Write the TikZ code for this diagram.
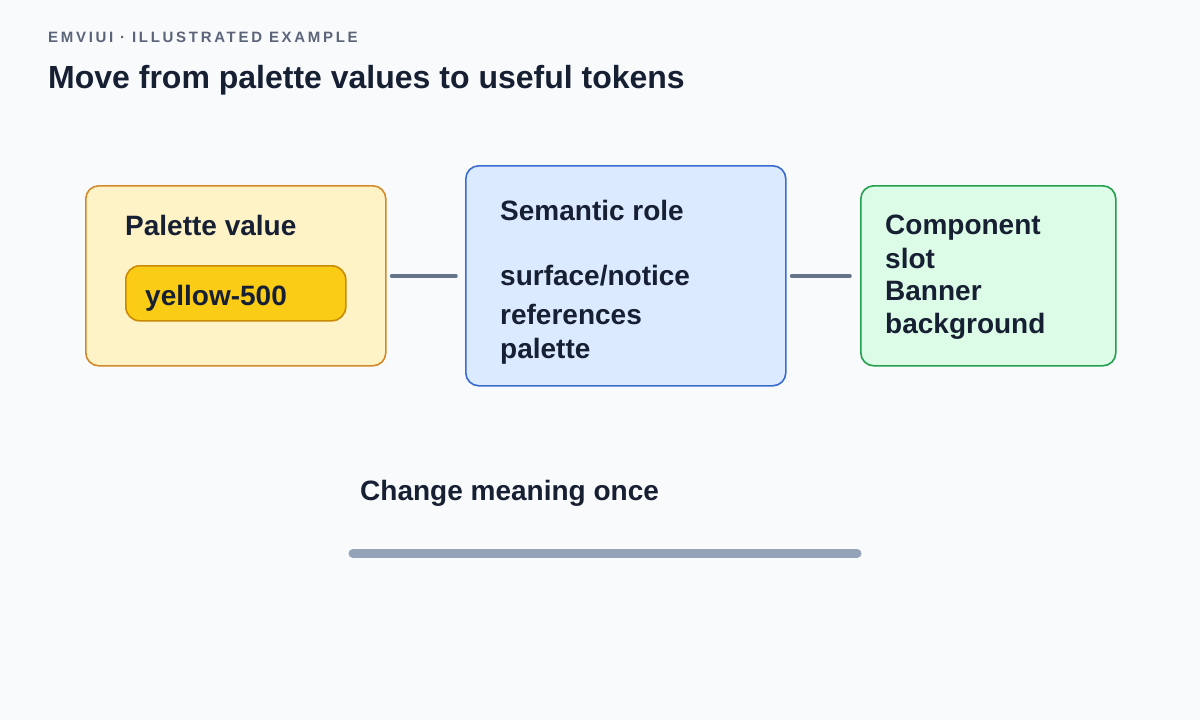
\documentclass[tikz,border=0pt]{standalone}
\usepackage{fontspec}
\setmainfont{Liberation Sans}
\newfontfamily\eyebrowfont[LetterSpace=18]{Liberation Sans}
\usetikzlibrary{positioning}
\definecolor{bgc}{HTML}{F8FAFC}
\definecolor{ink}{HTML}{172033}
\definecolor{muted}{HTML}{5B6478}
\definecolor{ylfill}{HTML}{FEF3C7}
\definecolor{ylstroke}{HTML}{D4892A}
\definecolor{pillfill}{HTML}{FACC15}
\definecolor{pillstroke}{HTML}{CA8A04}
\definecolor{blfill}{HTML}{DBEAFE}
\definecolor{blstroke}{HTML}{3A6CD0}
\definecolor{grfill}{HTML}{DCFCE7}
\definecolor{grstroke}{HTML}{22A04E}
\definecolor{conn}{HTML}{64748B}
\definecolor{barc}{HTML}{94A3B8}
\tikzset{
  x=1pt, y=-1pt,
  box/.style={draw, line width=1.6pt, rounded corners=13pt, anchor=north west, inner sep=0pt},
  lbl/.style={anchor=base west, inner sep=0pt, text=ink, font=\bfseries\fontsize{28}{32}\selectfont},
  conline/.style={draw=conn, line width=3.5pt, line cap=round},
}
\begin{document}
\begin{tikzpicture}
\path[fill=bgc] (0,0) rectangle (1200,720);
\useasboundingbox (0,0) rectangle (1200,720);
\node[anchor=base west, inner sep=0pt, text=muted, font=\eyebrowfont\bfseries\fontsize{15}{18}\selectfont] (eyebrow) at (48,42) {EMVIUI · ILLUSTRATED EXAMPLE};
\node[anchor=base west, inner sep=0pt, text=ink, font=\bfseries\fontsize{32}{36}\selectfont] (title) at (48,88) {Move from palette values to useful tokens};
% boxes
\node[box, draw=ylstroke, fill=ylfill, minimum width=300pt, minimum height=180pt] (pal) at (85,185) {};
\node[box, draw=pillstroke, fill=pillfill, minimum width=220pt, minimum height=55pt, rounded corners=14pt] (pill) at (125,265) {};
\node[box, draw=blstroke, fill=blfill, minimum width=320pt, minimum height=220pt] (sem) at (465,165) {};
\node[box, draw=grstroke, fill=grfill, minimum width=255pt, minimum height=180pt] (comp) at (860,185) {};
% labels
\node[lbl] (palt) at (125,235) {Palette value};
\node[lbl] (pillt) at (145,305) {yellow-500};
\node[lbl] (semt) at (500,220) {Semantic role};
\node[lbl] (sem1) at (500,285) {surface/notice};
\node[lbl] (sem2) at (500,324) {references};
\node[lbl] (sem3) at (500,358) {palette};
\node[lbl] (c1) at (885,234) {Component};
\node[lbl] (c2) at (885,268) {slot};
\node[lbl] (c3) at (885,300) {Banner};
\node[lbl] (c4) at (885,333) {background};
\node[lbl] (chg) at (360,500) {Change meaning once};
% connectors
\draw[conline, shorten <=5pt, shorten >=9pt] (pal.east) -- (sem.west);
\draw[conline, shorten <=5pt, shorten >=10pt] (sem.east) -- (comp.west);
% bar
\coordinate (barL) at (353,553.5);
\coordinate (barR) at (857,553.5);
\draw[draw=barc, line width=9pt, line cap=round] (barL) -- (barR);
\end{tikzpicture}
\end{document}
